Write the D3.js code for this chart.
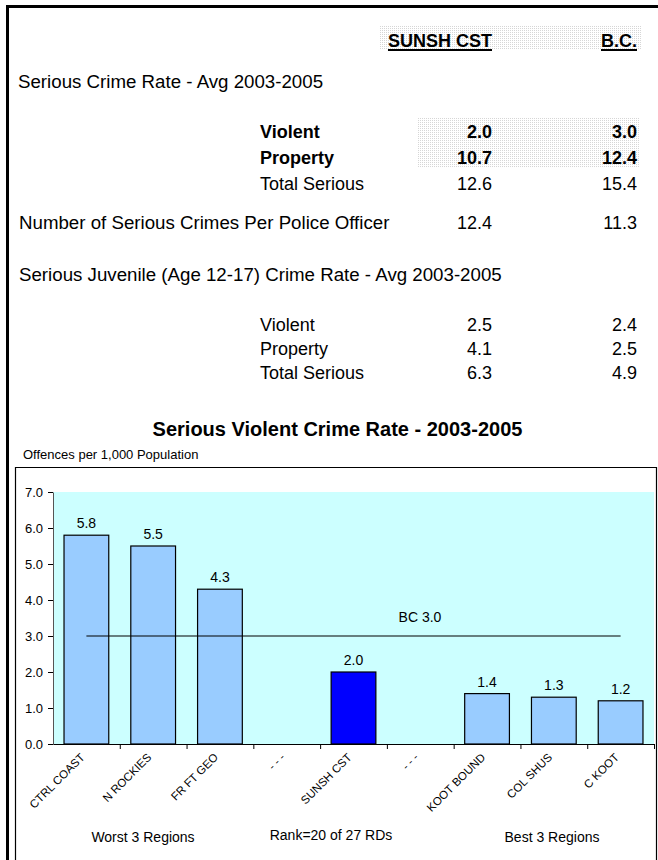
<!DOCTYPE html>
<html><head><meta charset="utf-8">
<script src="https://cdn.jsdelivr.net/npm/d3@7"></script>
<style>
html,body{margin:0;padding:0;background:#fff;}
svg{display:block;font-family:"Liberation Sans",Arial,sans-serif;}
</style></head>
<body>
<svg id="c" width="658" height="860"></svg>
<script>
// ---- Data ----
const colHeaders = ["SUNSH CST", "B.C."];
const crimeRateLabels = ["Violent", "Property", "Total Serious"];
const crimeRateSunsh = [2.0, 10.7, 12.6];
const crimeRateBC = [3.0, 12.4, 15.4];
const perOfficerLabel = "Number of Serious Crimes Per Police Officer";
const perOfficerSunsh = 12.4;
const perOfficerBC = 11.3;
const juvLabels = ["Violent", "Property", "Total Serious"];
const juvSunsh = [2.5, 4.1, 6.3];
const juvBC = [2.4, 2.5, 4.9];

const categories = ["CTRL COAST", "N ROCKIES", "FR FT GEO", "- - -", "SUNSH CST", "- - -", "KOOT BOUND", "COL SHUS", "C KOOT"];
const values = [5.8, 5.5, 4.3, null, 2.0, null, 1.4, 1.3, 1.2];
const highlight = "SUNSH CST";
const bcValue = 3.0;
const yTicks = [0, 1, 2, 3, 4, 5, 6, 7];
const groupLabels = ["Worst 3 Regions", "Rank=20 of 27 RDs", "Best 3 Regions"];

(function () {
const svg = d3.select("#c");
const defs = svg.append("defs");
const pat = defs.append("pattern").attr("id","dots").attr("width",2).attr("height",2).attr("patternUnits","userSpaceOnUse");
pat.append("rect").attr("width",1).attr("height",1).attr("fill","#d6d6d6");

// outer frame (left + top)
svg.append("rect").attr("x",6).attr("y",5).attr("width",3).attr("height",855).attr("fill","#000");
svg.append("rect").attr("x",6).attr("y",5).attr("width",652).attr("height",3).attr("fill","#000");

// ---- Table ----
const fmt = d3.format(".1f");
const colX = [492, 637];
const labelX = 260;
const fs = 18.7;

svg.append("rect").attr("x",379).attr("y",26).attr("width",262).attr("height",23).attr("fill","url(#dots)");
svg.append("rect").attr("x",417).attr("y",117).attr("width",223).attr("height",51).attr("fill","url(#dots)");

function txt(x, y, s, opts = {}) {
  return svg.append("text").attr("x", x).attr("y", y).text(s)
    .attr("font-size", opts.size || fs)
    .attr("font-weight", opts.bold ? "bold" : "normal")
    .attr("text-anchor", opts.anchor || "start")
    .attr("fill", "#000");
}

colHeaders.forEach((h, i) => {
  const t = txt(colX[i], 47, h, {bold: true, anchor: "end", size: 18});
  const w = t.node().getComputedTextLength();
  svg.append("rect").attr("x", colX[i] - w).attr("y", 49).attr("width", w).attr("height", 2).attr("fill", "#000");
});

txt(18, 88, "Serious Crime Rate - Avg 2003-2005");
const rateY = [138, 164, 190];
crimeRateLabels.forEach((l, i) => {
  const bold = i < 2;
  txt(labelX, rateY[i], l, {bold, size: 18});
  txt(colX[0], rateY[i], fmt(crimeRateSunsh[i]), {bold, anchor: "end", size: 18});
  txt(colX[1], rateY[i], fmt(crimeRateBC[i]), {bold, anchor: "end", size: 18});
});

txt(19, 229, perOfficerLabel);
txt(colX[0], 229, fmt(perOfficerSunsh), {anchor: "end", size: 18});
txt(colX[1], 229, fmt(perOfficerBC), {anchor: "end", size: 18});

txt(19, 281, "Serious Juvenile (Age 12-17) Crime Rate - Avg 2003-2005");
const juvY = [331, 355, 379];
juvLabels.forEach((l, i) => {
  txt(labelX, juvY[i], l, {size: 18});
  txt(colX[0], juvY[i], fmt(juvSunsh[i]), {anchor: "end", size: 18});
  txt(colX[1], juvY[i], fmt(juvBC[i]), {anchor: "end", size: 18});
});

// ---- Chart ----
txt(337.5, 436, "Serious Violent Crime Rate - 2003-2005", {bold: true, size: 20, anchor: "middle"});
txt(23, 459, "Offences per 1,000 Population", {size: 13});

// chart box
svg.append("path").attr("d", "M15.5,870 V467.5 H656.5 V870").attr("fill","none").attr("stroke","#000").attr("stroke-width",1.2);

const pLeft = 53, pRight = 654, pTop = 492, pBottom = 744;
const x = d3.scaleBand().domain(d3.range(categories.length)).range([pLeft, pRight]).paddingInner(0.33).paddingOuter(0.165);
const y = d3.scaleLinear().domain([0, 7]).range([pBottom, pTop]);

svg.append("rect").attr("x", pLeft).attr("y", pTop).attr("width", pRight - pLeft).attr("height", pBottom - pTop).attr("fill", "#CCFFFF");

const pts = values.map((v, i) => ({v, i})).filter(d => d.v != null);
// bars
svg.append("g").selectAll("rect").data(pts).join("rect")
  .attr("x", d => x(d.i)).attr("y", d => y(d.v))
  .attr("width", x.bandwidth()).attr("height", d => y(0) - y(d.v))
  .attr("fill", d => categories[d.i] === highlight ? "#0000FF" : "#99CCFF")
  .attr("stroke", "#000").attr("stroke-width", 1.2);

// value labels
svg.append("g").selectAll("text").data(pts).join("text")
  .attr("x", d => x(d.i) + x.bandwidth() / 2).attr("y", d => y(d.v) - 7)
  .attr("text-anchor", "middle").attr("font-size", 14).text(d => fmt(d.v));

// BC line
svg.append("line")
  .attr("x1", x(0) + x.bandwidth() / 2).attr("x2", x(categories.length - 1) + x.bandwidth() / 2)
  .attr("y1", y(bcValue)).attr("y2", y(bcValue)).attr("stroke", "#000").attr("stroke-width", 1.2);
txt(420, y(bcValue) - 14, "BC " + fmt(bcValue), {size: 14, anchor: "middle"});

// y axis
const yAxis = d3.axisLeft(y).tickValues(yTicks).tickFormat(fmt).tickSize(5).tickSizeOuter(0);
const gy = svg.append("g").attr("transform", `translate(${pLeft},0)`).call(yAxis);
gy.select(".domain").attr("stroke", "#555");
gy.selectAll("text").attr("font-size", 13).attr("font-family", "Liberation Sans, Arial, sans-serif").attr("fill","#000").attr("x", -10);
gy.selectAll("line").attr("stroke", "#000");

// x axis with ticks at band boundaries
const xb = d3.scaleLinear().domain([0, categories.length]).range([pLeft, pRight]);
const gx = svg.append("g").attr("transform", `translate(0,${pBottom})`)
  .call(d3.axisBottom(xb).tickValues(d3.range(1, categories.length + 1)).tickSize(5).tickSizeOuter(0).tickFormat(""));
gx.select(".domain").attr("stroke", "#000");
gx.selectAll("line").attr("stroke", "#000");

// x labels
svg.append("g").selectAll("text").data(categories).join("text")
  .attr("transform", (d, i) => `translate(${x(i) + x.bandwidth() / 2 - 1},${pBottom + 14}) rotate(-45)`)
  .attr("text-anchor", "end").attr("font-size", 11.5).text(d => d);

// group labels
const gxPos = [143, 331, 552];
const gyPos = [842, 840, 842];
groupLabels.forEach((g, i) => txt(gxPos[i], gyPos[i], g, {size: 14, anchor: "middle"}));
})();
</script>
</body></html>
